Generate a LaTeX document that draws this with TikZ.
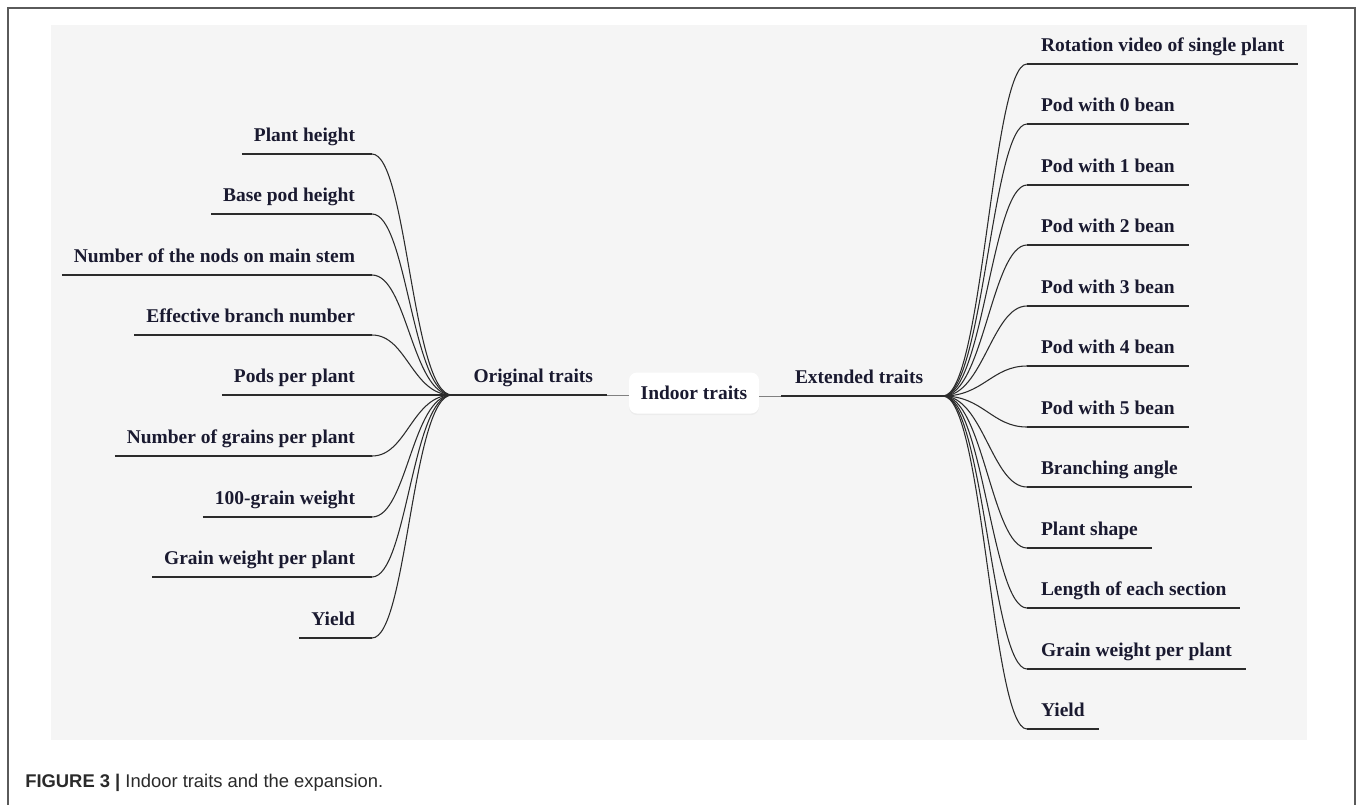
\documentclass[tikz,border=0pt]{standalone}
\usepackage{fontspec}
\setmainfont{Liberation Serif}
\newfontfamily\capfont{Liberation Sans}
\usetikzlibrary{shadows}
\definecolor{panel}{HTML}{F5F5F5}
\definecolor{txt}{HTML}{1A1A30}
\definecolor{ln}{HTML}{2B2B2B}
\definecolor{framec}{HTML}{5A5A5A}
\definecolor{capc}{HTML}{2A2A2A}
\begin{document}
\begin{tikzpicture}[x=0.75pt,y=-0.75pt,
  lab/.style={font=\fontsize{14.6}{16}\selectfont\bfseries, text=txt, inner xsep=10.5pt, inner ysep=9.75pt, text depth=0pt, outer sep=0pt},
  lbl/.style={lab, anchor=south east},
  rbl/.style={lab, anchor=south west},
  uline/.style={draw=ln, line width=0.9pt},
  branch/.style={draw=ln, line width=0.8pt},
  rootbox/.style={fill=white, rounded corners=6pt, minimum width=97.5pt, minimum height=30.75pt, inner sep=0pt, outer sep=0pt, font=\fontsize{14.6}{16}\selectfont\bfseries, text=txt, drop shadow={opacity=0.07, shadow xshift=0pt, shadow yshift=-1.2pt}}]
\useasboundingbox (0,0) rectangle (1360,804);
\fill[white] (0,0) rectangle (1360,804);
\draw[framec, line width=1.2pt] (8,812) -- (8,8) -- (1355,8) -- (1355,812);
\fill[panel] (51,25) rectangle (1307,740);

% root
\node[rootbox] (root) at (694,393) {Indoor traits};
\node[lbl] (ot) at (607,395) {Original traits};
\node[rbl] (et) at (781,396) {Extended traits};
\coordinate (fL) at (452,395);
\coordinate (fR) at (943,396);
\draw[draw=ln!60, line width=0.6pt] (root.west |- ot.south east) -- (ot.south east);
\draw[uline] (ot.south east) -- (fL);
\draw[draw=ln!60, line width=0.6pt] (root.east |- et.south west) -- (et.south west);
\draw[uline] (et.south west) -- (fR);

% left branches
\foreach \n/\y/\t in {l1/154/Plant height, l2/214/Base pod height, l3/275/Number of the nods on main stem, l4/335/Effective branch number, l5/395/Pods per plant, l6/456/Number of grains per plant, l7/517/100-grain weight, l8/577/Grain weight per plant, l9/638/Yield}{
  \node[lbl] (\n) at (372,\y) {\kern-1.5pt\t\kern2.25pt};
  \draw[uline] (\n.south west) -- (\n.south east);
  \draw[branch] (fL) .. controls +(-40,0) and +(35,0) .. (\n.south east);
}

% right branches
\foreach \n/\y/\t in {r1/64/Rotation video of single plant, r2/124/Pod with 0 bean, r3/185/Pod with 1 bean, r4/245/Pod with 2 bean, r5/306/Pod with 3 bean, r6/366/Pod with 4 bean, r7/427/Pod with 5 bean, r8/487/Branching angle, r9/548/Plant shape, r10/608/Length of each section, r11/669/Grain weight per plant, r12/729/Yield}{
  \node[rbl] (\n) at (1027,\y) {\t};
  \draw[uline] (\n.south west) -- (\n.south east);
  \draw[branch] (fR) .. controls +(40,0) and +(-35,0) .. (\n.south west);
}

\node[anchor=base west, font=\capfont\fontsize{13.8}{16}\selectfont, text=capc, inner sep=0pt] (cap) at (25,787) {\textbf{FIGURE 3 |} Indoor traits and the expansion.};
\end{tikzpicture}
\end{document}
